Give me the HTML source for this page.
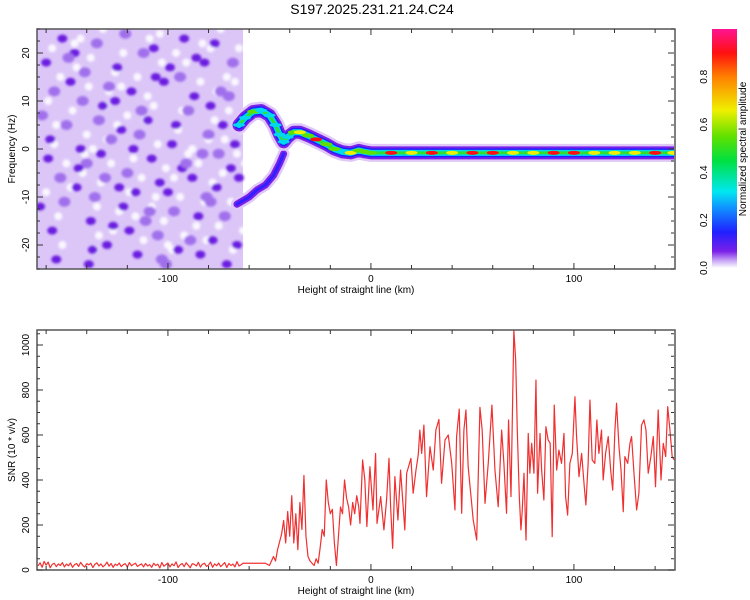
<!DOCTYPE html>
<html><head><meta charset="utf-8"><style>
body{margin:0;background:#fff;}
svg{display:block;font-family:"Liberation Sans",sans-serif;}
</style></head><body>
<svg id="fig" width="750" height="600" viewBox="0 0 750 600">
<defs>
<linearGradient id="cbar" x1="0" y1="1" x2="0" y2="0">
<stop offset="0" stop-color="#ffffff"/><stop offset="0.03" stop-color="#c9a8f5"/><stop offset="0.07" stop-color="#7a20e8"/>
<stop offset="0.15" stop-color="#2020ff"/><stop offset="0.25" stop-color="#1090ff"/><stop offset="0.32" stop-color="#00e8f0"/>
<stop offset="0.45" stop-color="#00e040"/><stop offset="0.55" stop-color="#60e000"/><stop offset="0.66" stop-color="#f0f000"/>
<stop offset="0.8" stop-color="#ff8000"/><stop offset="0.9" stop-color="#ff1010"/><stop offset="1" stop-color="#ff1493"/>
</linearGradient>
<clipPath id="c1"><rect x="37" y="29" width="637" height="240"/></clipPath>
<clipPath id="c2"><rect x="37" y="330" width="638" height="240"/></clipPath>
<filter id="blur"><feGaussianBlur stdDeviation="1.2"/></filter>
</defs>
<text x="372" y="14" font-size="14" text-anchor="middle">S197.2025.231.21.24.C24</text>
<g id="topPanel"></g>
<g id="botPanel"></g>
<g id="cbPanel"></g>
</svg>
<script>
// ---------- data ----------
const blobKm=[-160,-155,-150,-148,-145,-140,-138,-135,-132,-130,-128,-125,-122,-120,-118,-115,-112,-110,-108,-105,-102,-100,-98,-95,-92,-90,-88,-85,-82,-80,-78,-76,-74,-71,-69,-68,-163,-158,-152,-142,-136,-127,-117,-107,-97,-87,-83,-73,-66,-153,-133,-113,-93,-79,-143,-123,-103,
-162,-157,-151,-146,-141,-137,-131,-126,-121,-116,-111,-106,-101,-96,-91,-86,-81,-77,-72,-67,-159,-149,-139,-129,-119,-109,-99,-89,-79,-70,-156,-144,-134,-124,-114,-104,-94,-84,-75,-65];
const blobHz=[18,-23,5,14,-8,-3,-15,22,9,-20,2,17,-12,-5,12,-22,20,6,-2,-18,14,-9,1,-21,23,8,-6,-14,18,3,-19,-8,12,-24,-4,18,-12,2,23,10,-10,-16,0,21,-13,11,-1,5,-20,-6,-1,8,-4,-11,0,4,-23,
7,-17,-11,20,16,-21,-6,10,24,-9,-15,15,-24,5,-3,19,-10,22,-14,1,-2,19,-24,13,-17,-13,17,-19,9,11,12,-4,6,-8,3,-7,15,-22,-1,-6];
const blobLevel=[3,3,2,3,3,2,3,2,3,3,2,3,3,2,3,3,2,3,3,2,3,3,3,3,3,2,3,3,3,2,3,3,2,3,3,2,3,3,3,2,2,3,3,3,2,3,2,3,3,2,3,2,3,2,3,3,2,
2,3,2,3,2,3,2,3,2,3,2,3,2,3,2,3,2,3,2,3,3,2,3,2,3,2,3,2,3,2,2,3,2,3,2,3,2,3,2,3];
const armKm=[-43,-45,-48,-52,-56,-60,-64,-66];
const armHz=[-1,-3,-5.5,-7.5,-8.5,-10,-11,-11.5];
const ridgeKm=[-65,-62,-58,-54,-50,-47,-45,-43,-41,-38,-35,-31,-27,-22,-18,-14,-10,-6,-3,0,10,20,30,40,50,60,70,80,90,100,110,120,130,140,149];
const ridgeHz=[5,6.5,7.8,8,7,5,3,1.5,2.5,3.5,3.5,2.8,2,1,0,-0.6,-0.8,-0.3,-0.6,-0.8,-0.8,-0.8,-0.8,-0.8,-0.8,-0.8,-0.8,-0.8,-0.8,-0.8,-0.8,-0.8,-0.8,-0.8,-0.8];
const ridgeAmp=[0.35,0.5,0.6,0.55,0.5,0.4,0.35,0.3,0.4,0.6,0.85,0.7,0.9,0.6,0.65,0.55,0.8,0.6,0.7,0.65,0.95,0.85,0.9,0.8,0.95,0.9,0.85,0.8,0.9,0.95,0.85,0.8,0.85,0.9,0.8];
const xTicks=[-100,0,100];
const yTicksTop=[-20,-10,0,10,20];
const cbTicks=[0.0,0.2,0.4,0.6,0.8];
// noise floor sampled every 1 km from -164 to -53
const floorStartKm=-164;
const floorVal=[18,32,12,38,22,35,10,25,30,15,27,20,33,14,26,19,31,12,24,29,16,34,21,13,28,23,30,11,25,32,18,27,14,22,35,17,29,12,26,20,31,15,24,28,13,33,19,25,30,16,22,27,14,29,18,24,
12,30,20,26,9,33,17,24,31,14,27,19,36,11,23,29,15,32,21,10,28,25,18,34,13,26,30,16,22,35,12,27,19,31,15,24,33,11,29,20,26,14,37,18,23,30];
const snrKm=[-52,-50,-48,-47,-46,-44,-43,-42,-41,-40,-39,-38,-37,-36,-35,-34,-33,-32,-31,-30,-29,-28,-27,-26,-25,-24,-23,-22,-21,-20,-19,-18,-17,-16,-15,-14,-13,-12,-11,-10,-9,-8,-7,-6,
-5.4,-4.1,-3.0,-2.0,-0.5,1.0,2.3,3.0,4.8,6.4,7.7,8.9,9.7,10.7,11.8,13.3,14.6,16.7,17.6,19.7,20.8,22.2,23.3,24.1,25.0,26.1,27.4,29.1,30.7,32.0,33.5,34.8,36.5,38.1,39.8,41.4,42.2,43.5,44.7,45.8,46.8,47.9,50.4,52.1,53.7,54.8,56.2,57.8,59.6,61.1,62.7,64.4,65.5,66.8,67.8,69.0,70.4,71.3,72.1,73.1,
73.9,74.5,75.4,76.4,77.5,78.3,79.2,80.3,81.3,82.1,83.3,84.1,85.2,86.2,87.3,88.3,89.3,90.3,91.5,92.6,93.9,95.1,95.9,96.9,98.0,99.2,100.5,101.3,102.5,103.8,105.1,105.9,107.0,107.9,109.0,110.3,111.3,112.3,113.6,114.4,115.6,116.9,118.1,119.1,120.2,121.0,122.2,123.2,124.3,125.1,126.5,127.6,128.4,129.7,130.9,132.0,133.3,134.5,135.5,136.6,137.9,139.1,140.2,141.5,142.9,144.0,145.2,146.2,147.3,148.4,149.4];
const snrVal=[30,20,60,40,90,160,220,120,260,150,330,120,250,90,300,180,420,150,60,40,30,20,50,30,100,180,150,400,300,250,270,120,20,150,280,250,400,320,280,200,300,250,330,280,
207,489,400,193,459,267,518,207,326,178,311,496,281,96,415,222,444,178,430,496,341,444,511,622,518,644,326,548,444,622,669,385,578,600,474,267,593,715,252,622,711,459,222,133,723,622,296,474,733,444,281,622,474,252,667,326,1067,933,622,326,
178,259,430,133,607,430,563,430,844,341,607,444,311,637,578,563,148,733,444,533,474,607,326,244,474,518,770,593,415,518,370,289,474,755,489,474,667,518,622,400,518,593,444,355,622,741,548,444,259,504,474,563,593,415,267,341,644,667,622,430,504,593,370,711,400,563,504,726,622,504,489];
const yTicksBot=[0,200,400,600,800,1000];

// ---------- axes ----------
const NS="http://www.w3.org/2000/svg";
function mk(tag,attrs,parent){const e=document.createElementNS(NS,tag);for(const k in attrs)e.setAttribute(k,attrs[k]);parent.appendChild(e);return e;}
const X0=37,X1=674,KM0=-164.5,KM1=149.3;
const xs=km=>X0+(km-KM0)*(X1-X0)/(KM1-KM0);
const yTop=hz=>149-hz*4.8;
const yBot=v=>570-v*0.225;
const cbY=a=>268-a*239;

const topG=document.getElementById('topPanel');
const botG=document.getElementById('botPanel');
const cbG=document.getElementById('cbPanel');

// spectrogram content
const sp=mk('g',{'clip-path':'url(#c1)'},topG);


const bg=mk('rect',{x:X0,y:29,width:xs(-63)-X0,height:240,fill:'#dcc6f8'},sp);


const blobCol=['','#c8a4f2','#a070ec','#6a1ee0'];
const bg2=mk('g',{filter:'url(#blur)'},sp);
for(let i=0;i<blobKm.length;i++){
  const c=mk('circle',{cx:xs(blobKm[i]+3),cy:yTop(blobHz[i]+3),r:4,fill:'#fff',opacity:0.85},bg2);
  
  
}
for(let i=0;i<blobKm.length;i++){
  const c=mk('ellipse',{cx:xs(blobKm[i]),cy:yTop(blobHz[i]),rx:blobLevel[i]==3?5:6,ry:blobLevel[i]==3?4:5,fill:blobCol[blobLevel[i]]},bg2);
  
  
}
function poly(kms,hzs){return kms.map((k,i)=>xs(k)+','+yTop(hzs[i])).join(' ');}
const layers=[[18,'#e0c8f8'],[13,'#7a20e8'],[9,'#2020ff'],[6,'#00d8f0'],[3,'#30e030']];
const arm=mk('g',{},sp);


[[12,'#e0c8f8'],[7,'#7a20e8'],[3,'#3020ff']].forEach(l=>mk('polyline',{points:poly(armKm,armHz),fill:'none',stroke:l[1],'stroke-width':l[0],'stroke-linecap':'round','stroke-linejoin':'round'},arm));
const rg=mk('g',{},sp);


layers.forEach(l=>mk('polyline',{points:poly(ridgeKm,ridgeHz),fill:'none',stroke:l[1],'stroke-width':l[0],'stroke-linecap':'round','stroke-linejoin':'round'},rg));
for(let i=0;i<ridgeKm.length;i++){
  const a=ridgeAmp[i];
  const col=a>0.88?'#ff1010':a>0.75?'#f0f000':a>0.55?'#60e000':'#00d8f0';
  const sp2=mk('ellipse',{cx:xs(ridgeKm[i]),cy:yTop(ridgeHz[i]),rx:6,ry:2,fill:col},rg);
  
  
}

// frames & ticks
function frame(g,y0,y1,name){
  const r=mk('rect',{x:X0,y:y0,width:X1-X0+1,height:y1-y0,fill:'none',stroke:'#555','stroke-width':1.5},g);
  
  
  for(let k=-160;k<=140;k+=20){
    const big=k%100==0, L=big?6:4;
    mk('line',{x1:xs(k),x2:xs(k),y1:y1,y2:y1-L,stroke:'#333'},g);
    mk('line',{x1:xs(k),x2:xs(k),y1:y0,y2:y0+L,stroke:'#333'},g);
  }
  xTicks.forEach(k=>{
    const t=mk('text',{x:xs(k),y:y1+13,'font-size':10,'text-anchor':'middle'},g);
    t.textContent=k;
    
    
  });
  const xt=mk('text',{x:356,y:y1+24,'font-size':10,'text-anchor':'middle'},g);
  xt.textContent='Height of straight line (km)';
  
  
}
frame(topG,29,269,'spectrogram-frame');
for(let h=-25;h<=25;h+=2.5){const L=h%10==0?6:3;
  mk('line',{x1:X0,x2:X0+L,y1:yTop(h),y2:yTop(h),stroke:'#333'},topG);
  mk('line',{x1:X1,x2:X1-L,y1:yTop(h),y2:yTop(h),stroke:'#333'},topG);}
yTicksTop.forEach(h=>{
  const t=mk('text',{transform:`translate(29,${yTop(h)}) rotate(-90)`,'font-size':10,'text-anchor':'middle'},topG);
  t.textContent=h;
  
  
});
const yt1=mk('text',{transform:'translate(15,149) rotate(-90)','font-size':10,'text-anchor':'middle'},topG);
yt1.textContent='Frequency (Hz)';



// SNR line
const allKm=floorVal.map((v,i)=>floorStartKm+i).concat(snrKm);
const allVal=floorVal.concat(snrVal);
const lg=mk('g',{'clip-path':'url(#c2)'},botG);
const pl=mk('polyline',{points:allKm.map((k,i)=>xs(k)+','+yBot(allVal[i])).join(' '),fill:'none',stroke:'#f03030','stroke-width':1.2,'stroke-linejoin':'round'},lg);


frame(botG,330,570,'snr-frame');
for(let v=0;v<=1050;v+=50){const L=v%200==0?6:3;
  mk('line',{x1:X0,x2:X0+L,y1:yBot(v),y2:yBot(v),stroke:'#333'},botG);
  mk('line',{x1:X1,x2:X1-L,y1:yBot(v),y2:yBot(v),stroke:'#333'},botG);}
yTicksBot.forEach(v=>{
  const t=mk('text',{transform:`translate(29,${yBot(v)}) rotate(-90)`,'font-size':10,'text-anchor':'middle'},botG);
  t.textContent=v;
  
  
});
const yt2=mk('text',{transform:'translate(15,450) rotate(-90)','font-size':10,'text-anchor':'middle'},botG);
yt2.textContent='SNR (10 * v/v)';



// colorbar
const cr=mk('rect',{x:712,y:29,width:25,height:239,fill:'url(#cbar)'},cbG);


cbTicks.forEach(a=>{
  const t=mk('text',{transform:`translate(707,${cbY(a)}) rotate(-90)`,'font-size':10,'text-anchor':'middle'},cbG);
  t.textContent=a.toFixed(1);
  
  
});
const ct=mk('text',{transform:'translate(746,149) rotate(-90)','font-size':10,'text-anchor':'middle'},cbG);
ct.textContent='Normalized spectral amplitude';


</script>
</body></html>
